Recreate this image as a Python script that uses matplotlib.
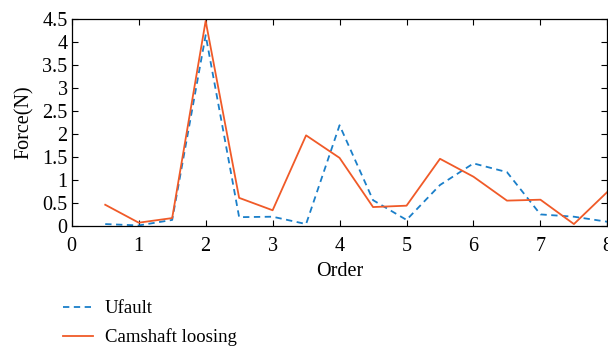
import numpy as np
import matplotlib
matplotlib.use('Agg')
from matplotlib import pyplot as plt

plt.rcParams['font.family'] = ['Liberation Serif', 'DejaVu Serif']

order = [0.5, 1, 1.5, 2, 2.5, 3, 3.5, 4, 4.5, 5, 5.5, 6, 6.5, 7, 7.5, 8]
ufault = [0.04, 0.01, 0.13, 4.15, 0.19, 0.20, 0.04, 2.19, 0.56, 0.13, 0.89, 1.36, 1.17, 0.25, 0.20, 0.09]
camshaft = [0.46, 0.07, 0.17, 4.46, 0.61, 0.34, 1.97, 1.48, 0.41, 0.44, 1.46, 1.07, 0.55, 0.57, 0.04, 0.74]

fig = plt.figure(figsize=(6.08, 3.47), dpi=100)
ax = fig.add_axes([0.118, 0.349, 0.881, 0.596])

ax.plot(order, ufault, '--', color='#1a7fc9', lw=1.3, label='Ufault', dashes=(3.5, 2.5))
ax.plot(order, camshaft, '-', color='#f05a28', lw=1.3, label='Camshaft loosing')

ax.set_xlim(0, 8)
ax.set_ylim(0, 4.5)
ax.set_xticks(np.arange(0, 9, 1))
ax.set_yticks(np.arange(0, 4.6, 0.5))
ax.set_yticklabels(['0', '0.5', '1', '1.5', '2', '2.5', '3', '3.5', '4', '4.5'])
ax.tick_params(direction='in', top=True, right=True, labelsize=14.5, length=4)
ax.tick_params(axis='x', pad=8)
ax.tick_params(axis='y', pad=3)
for s in ax.spines.values():
    s.set_linewidth(0.9)
ax.set_xlabel('Order', fontsize=14.5, labelpad=4)
ax.set_ylabel('Force(N)', fontsize=14.5, labelpad=6)

fig.legend(loc='upper left', bbox_to_anchor=(0.103, 0.135), frameon=False, fontsize=13.5,
           handlelength=1.6, handletextpad=0.65, labelspacing=0.6, borderaxespad=0, borderpad=0)

fig.savefig('out.png', dpi=100)
